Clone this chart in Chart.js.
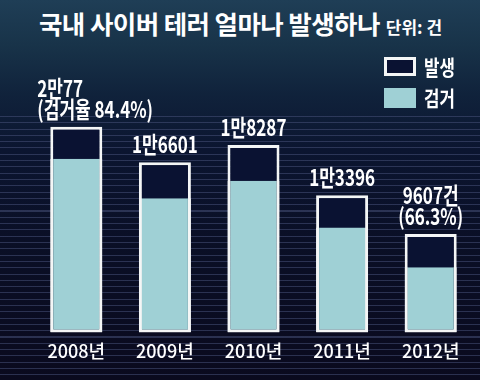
<!DOCTYPE html>
<html><head><meta charset="utf-8">
<script src="https://cdn.jsdelivr.net/npm/chart.js@4"></script>
<style>
html,body{margin:0;padding:0;}
body{width:480px;height:380px;overflow:hidden;position:relative;
 background:linear-gradient(180deg,#1f3e56 0px,#183349 45px,#10223b 95px,#0b1530 150px,#0a0f26 240px,#0a0a1e 380px);}
#stripes{position:absolute;left:0;top:116px;width:480px;height:264px;
 background:repeating-linear-gradient(180deg,rgba(70,80,120,0.55) 0px,rgba(70,80,120,0.55) 1px,transparent 1px,transparent 6.3px);}
#title{position:absolute;left:39px;top:4px;color:#fff;font-family:'Noto Sans CJK KR',sans-serif;font-weight:700;font-size:25.5px;white-space:nowrap;letter-spacing:-0.6px;}
#title span{font-size:17px;margin-left:6px;letter-spacing:0;}
canvas{position:absolute;left:0;top:0;}
</style></head>
<body>
<div id="stripes"></div>
<div id="title">국내 사이버 테러 얼마나 발생하나<span>단위: 건</span></div>
<canvas id="c" width="480" height="380"></canvas>
<script>
const years = ['2008년','2009년','2010년','2011년','2012년'];
const occurred = [20077,16601,18287,13396,9607];
const arrested = [16945,13090,14790,10250,6369];
const seriesNames = ['발생','검거'];
const valueLabels = [['2만77','(검거율 84.4%)'],['1만6601'],['1만8287'],['1만3396'],['9607건','(66.3%)']];

const WHITE='#f4f6f6', CYAN='#9fd0d5', DARK='#0a1232';
const labelFont="700 23px 'Noto Sans CJK KR',sans-serif";
const SX=0.74;

const overlay = {
  id:'overlay',
  afterDatasetsDraw(chart){
    const ctx=chart.ctx;
    const meta=chart.getDatasetMeta(0);
    ctx.save();
    ctx.fillStyle='#fff';
    ctx.font=labelFont;
    ctx.textBaseline='alphabetic';
    meta.data.forEach((bar,i)=>{
      const lines=valueLabels[i];
      const left=bar.x-bar.width/2;
      let y=bar.y-9-(lines.length-1)*21;
      lines.forEach(t=>{
        ctx.save();
        if(i===0){ctx.translate(left-13,y);ctx.scale(SX,1);ctx.textAlign='left';}
        else{ctx.translate(bar.x,y);ctx.scale(SX,1);ctx.textAlign='center';}
        ctx.fillText(t,0,0);
        ctx.restore();
        y+=21;
      });
    });
    // legend
    const lx=384, items=[{y:57,fill:DARK,border:true},{y:88,fill:CYAN,border:false}];
    ctx.font="700 21px 'Noto Sans CJK KR',sans-serif";
    ctx.textAlign='left';ctx.textBaseline='middle';
    items.forEach((it,k)=>{
      if(it.border){ctx.fillStyle=WHITE;ctx.fillRect(lx,it.y,32,19);ctx.fillStyle=it.fill;ctx.fillRect(lx+3,it.y+3,26,13);}
      else{ctx.fillStyle=it.fill;ctx.fillRect(lx,it.y,32,20);}
      ctx.fillStyle='#fff';
      ctx.save();ctx.translate(lx+40,it.y+10);ctx.scale(0.8,1);
      ctx.fillText(seriesNames[k],0,0);
      ctx.restore();
    });
    ctx.restore();
  }
};

new Chart(document.getElementById('c'),{
  type:'bar',
  data:{labels:years,datasets:[
    {label:seriesNames[0],data:occurred,backgroundColor:DARK,borderColor:WHITE,borderWidth:3,borderSkipped:false,order:2},
    {label:seriesNames[1],data:arrested,backgroundColor:CYAN,borderColor:WHITE,borderWidth:3,borderSkipped:'top',order:1}
  ]},
  options:{
    responsive:false,animation:false,
    datasets:{bar:{categoryPercentage:1,barPercentage:0.587,grouped:false}},
    layout:{padding:{left:32,right:5,top:66,bottom:10}},
    plugins:{legend:{display:false},tooltip:{enabled:false},title:{display:false}},
    scales:{
      x:{grid:{display:false,drawTicks:false},border:{display:false},
         ticks:{color:'#fff',padding:8,font:{family:"'Noto Sans CJK KR',sans-serif",weight:'500',size:18}}},
      y:{display:false,min:0,max:26000}
    }
  },
  plugins:[overlay]
});
</script>
</body></html>
